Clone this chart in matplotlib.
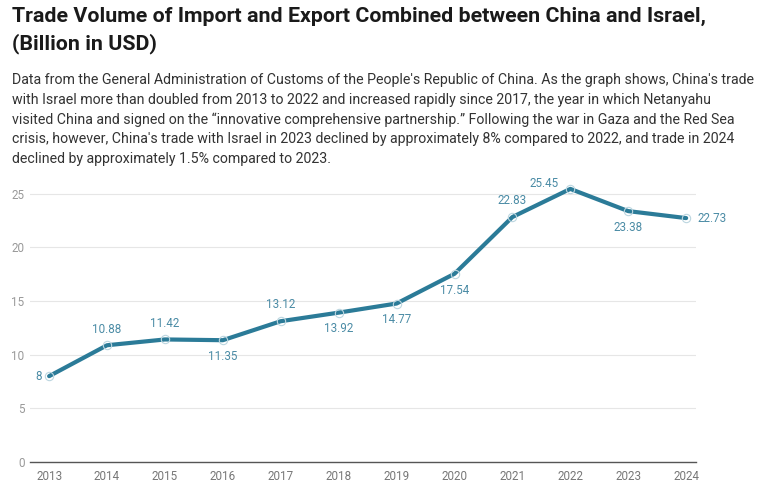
import matplotlib.pyplot as plt

plt.rcParams['font.family'] = ['Roboto', 'DejaVu Sans']

years = [2013, 2014, 2015, 2016, 2017, 2018, 2019, 2020, 2021, 2022, 2023, 2024]
trade = [8, 10.88, 11.42, 11.35, 13.12, 13.92, 14.77, 17.54, 22.83, 25.45, 23.38, 22.73]
label_pos = ['left', 'above', 'above', 'below', 'above', 'below', 'below',
             'below', 'above', 'aboveleft', 'below', 'right']

title = "Trade Volume of Import and Export Combined between China and Israel,\n(Billion in USD)"
subtitle = ("Data from the General Administration of Customs of the People's Republic of China. As the graph shows, China's trade\n"
            "with Israel more than doubled from 2013 to 2022 and increased rapidly since 2017, the year in which Netanyahu\n"
            "visited China and signed on the \u201cinnovative comprehensive partnership.\u201d Following the war in Gaza and the Red Sea\n"
            "crisis, however, China's trade with Israel in 2023 declined by approximately 8% compared to 2022, and trade in 2024\n"
            "declined by approximately 1.5% compared to 2023.")

line_color = '#2b7b98'
label_color = '#4a8ba5'

fig = plt.figure(figsize=(7.68, 4.95), dpi=100)
fig.text(12 / 768, 1 - 7 / 495, title, fontsize=15.4, fontweight='bold',
         color='#1a1a1a', va='top', ha='left', linespacing=1.42)
fig.text(12 / 768, 1 - 73 / 495, subtitle, fontsize=10.2, color='#333333',
         va='top', ha='left', linespacing=1.5)

ax = fig.add_axes([30 / 768, 33 / 495, 666 / 768, 279 / 495])
ax.plot(years, trade, color=line_color, linewidth=3, solid_capstyle='round',
        marker='o', markersize=6, markerfacecolor='none',
        markeredgecolor='#bcd6e0', markeredgewidth=0.8, zorder=3)

for x, y, pos in zip(years, trade, label_pos):
    txt = f"{y:g}"
    if pos == 'above':
        ax.annotate(txt, (x, y), xytext=(0, 7), textcoords='offset points',
                    ha='center', va='bottom', fontsize=8.4, color=label_color)
    elif pos == 'below':
        ax.annotate(txt, (x, y), xytext=(0, -7), textcoords='offset points',
                    ha='center', va='top', fontsize=8.4, color=label_color)
    elif pos == 'aboveleft':
        ax.annotate(txt, (x, y), xytext=(-19, 4), textcoords='offset points',
                    ha='center', va='center', fontsize=8.4, color=label_color)
    elif pos == 'left':
        ax.annotate(txt, (x, y), xytext=(-5, 0), textcoords='offset points',
                    ha='right', va='center', fontsize=8.4, color=label_color)
    else:
        ax.annotate(txt, (x, y), xytext=(8, 0), textcoords='offset points',
                    ha='left', va='center', fontsize=8.4, color=label_color)

ax.set_xlim(2012.67, 2024.17)
ax.set_ylim(0, 26)
ax.set_xticks(years)
ax.set_xticklabels([str(y) for y in years])
ax.set_yticks([0, 5, 10, 15, 20, 25])
ax.grid(axis='y', color='#e6e6e6', linewidth=0.8)
ax.set_axisbelow(True)
for s in ['top', 'right', 'left']:
    ax.spines[s].set_visible(False)
ax.spines['bottom'].set_color('#555555')
ax.spines['bottom'].set_linewidth(1)
ax.tick_params(axis='x', length=0, pad=6, labelsize=8.4, labelcolor='#777777')
ax.tick_params(axis='y', length=0, pad=4, labelsize=8.4, labelcolor='#999999')
for lbl in ax.get_yticklabels():
    lbl.set_horizontalalignment('right')

fig.savefig('out.png', dpi=100, facecolor='white')
